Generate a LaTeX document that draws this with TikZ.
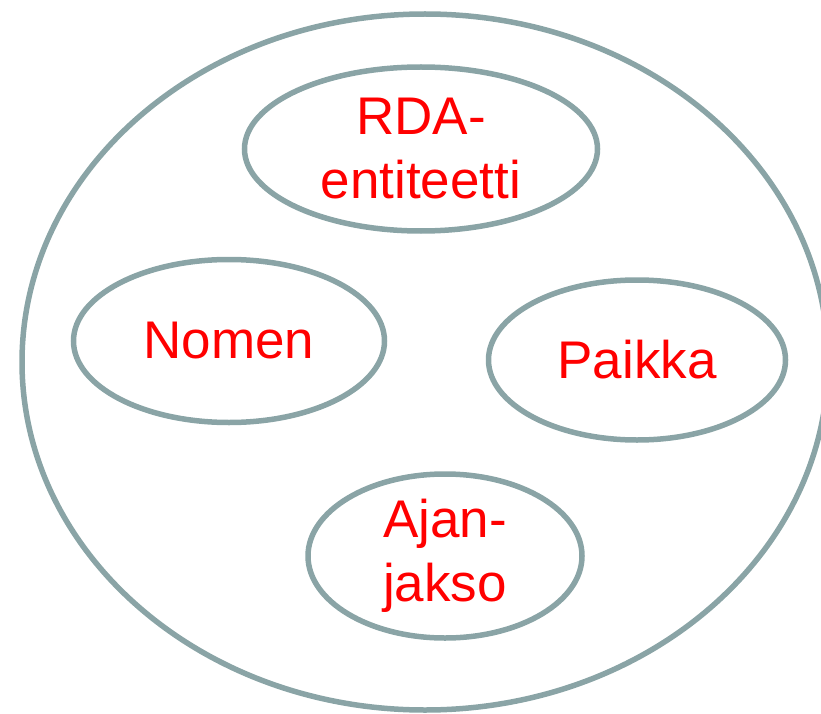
\documentclass[tikz,border=0pt]{standalone}
\usepackage{fontspec}
\setmainfont{Liberation Sans}
\usepackage{tikz}
\usetikzlibrary{shapes, positioning}
\definecolor{edgegrey}{HTML}{8AA4A6}

\begin{document}
\begin{tikzpicture}[x=1pt, y=-1pt]
        \tikzstyle{entity} = [ellipse, draw=edgegrey, line width=5.5pt, inner sep=0pt, text=red, align=center, font=\fontsize{53}{64}\selectfont]

        \clip (0,0) rectangle (821,714);
        \useasboundingbox (0,0) rectangle (821,714);

        \node [ellipse, draw=edgegrey, line width=5.5pt, inner sep=0pt, minimum width=806, minimum height=696] (domain) at (425,362) {};
        \node [entity, minimum width=353, minimum height=164] (rda) at (421,149) {RDA-\\entiteetti};
        \node [entity, minimum width=311, minimum height=163] (nomen) at (229,341) {Nomen};
        \node [entity, minimum width=297, minimum height=160] (paikka) at (637,360) {Paikka};
        \node [entity, minimum width=274, minimum height=164] (ajanjakso) at (445,556) {Ajan-\\jakso};
    \end{tikzpicture}
\end{document}
